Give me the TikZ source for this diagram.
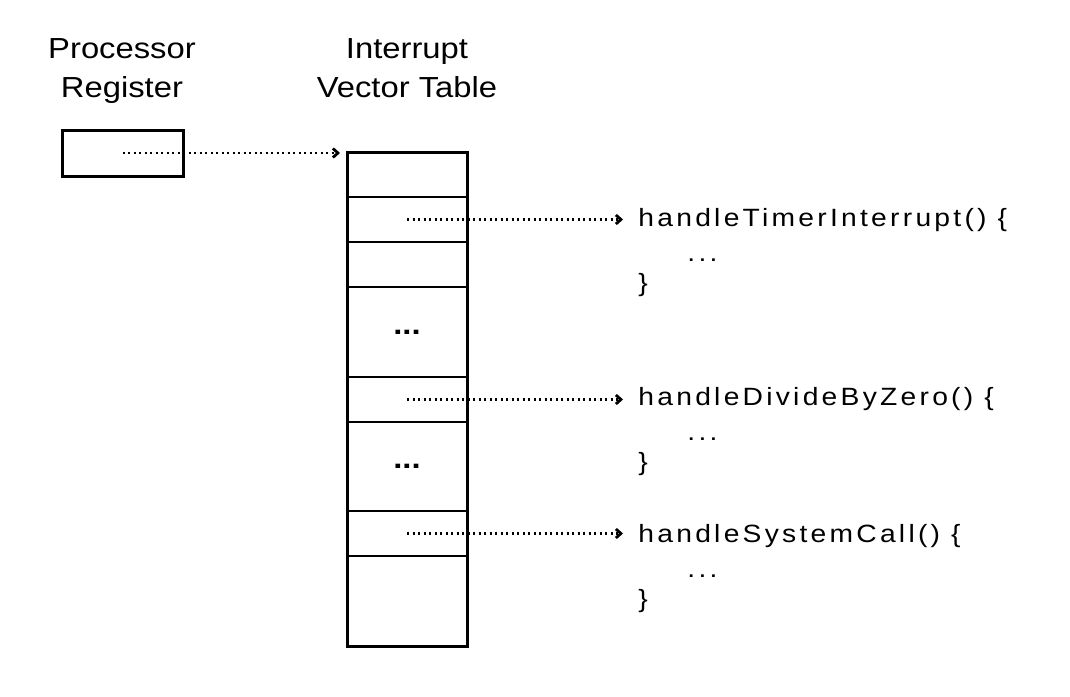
\documentclass[tikz,border=0pt]{standalone}
\usepackage{fontspec}
\setmainfont{Liberation Sans}[FakeStretch=1.13]
\newfontfamily\codefont{Liberation Sans}[FakeStretch=1.13,LetterSpace=13]
\usetikzlibrary{arrows.meta,positioning}

\tikzset{
  heading/.style={align=center, font=\fontsize{14.5}{19.5}\selectfont, inner sep=0pt, anchor=north},
  regbox/.style={draw, line width=1.5pt, minimum width=60.5pt, minimum height=23pt, inner sep=0pt, outer sep=0pt},
  slot/.style={draw, line width=1pt, minimum width=60pt, inner sep=0pt, outer sep=0pt, font=\bfseries\fontsize{14.5}{19.5}\selectfont},
  ptr/.style={line width=1.2pt, dash pattern=on 1.2pt off 1.55pt, -{Straight Barb[length=2.5pt,width=4.5pt,line width=1.4pt]}},
  code/.style={font=\codefont\fontsize{12.5}{15}\selectfont, inner sep=0pt},
}

\begin{document}
\begin{tikzpicture}[x=0.5pt, y=-0.5pt]
\useasboundingbox (0,0) rectangle (1070,696);
% titles
\node[heading] (regtitle) at (122,38) {Processor\\Register};
\node[heading] (ivttitle) at (407,38) {Interrupt\\Vector Table};
% processor register
\node[regbox] (reg) at (122.5,153) {};
% interrupt vector table
\node[slot, minimum height=22.5pt] (s1) at (407,174.5) {};
\node[slot, minimum height=22.5pt, below=0pt of s1] (s2) {};
\node[slot, minimum height=22.5pt, below=0pt of s2] (s3) {};
\node[slot, minimum height=45pt, below=0pt of s3] (s4) {...};
\node[slot, minimum height=22.5pt, below=0pt of s4] (s5) {};
\node[slot, minimum height=44.5pt, below=0pt of s5] (s6) {...};
\node[slot, minimum height=22.5pt, below=0pt of s6] (s7) {};
\node[slot, minimum height=45pt, below=0pt of s7] (s8) {};
\draw[line width=1.5pt] (s1.north west) rectangle (s8.south east);
% handlers
\node[code, anchor=west] (fn1) at (638,220) {handleTimerInterrupt() \{};
\node[code, anchor=base west] (body1) at ([xshift=24.5pt, yshift=-17.5pt]fn1.base west) {...};
\node[code, anchor=base west] (end1) at ([yshift=-32.5pt]fn1.base west) {\}};
\node[code, anchor=west] (fn2) at (638,399.5) {handleDivideByZero() \{};
\node[code, anchor=base west] (body2) at ([xshift=24.5pt, yshift=-17.5pt]fn2.base west) {...};
\node[code, anchor=base west] (end2) at ([yshift=-32.5pt]fn2.base west) {\}};
\node[code, anchor=west] (fn3) at (638,536) {handleSystemCall() \{};
\node[code, anchor=base west] (body3) at ([xshift=24.5pt, yshift=-17.5pt]fn3.base west) {...};
\node[code, anchor=base west] (end3) at ([yshift=-32.5pt]fn3.base west) {\}};
% pointers
\draw[ptr, shorten >=3.5pt] (reg.center) -- (reg.center -| s1.west);
\draw[ptr, shorten >=7.5pt] (s2.center) -- (s2.center -| fn1.west);
\draw[ptr, shorten >=7.5pt] (s5.center) -- (s5.center -| fn2.west);
\draw[ptr, shorten >=7.5pt] (s7.center) -- (s7.center -| fn3.west);
\end{tikzpicture}
\end{document}
